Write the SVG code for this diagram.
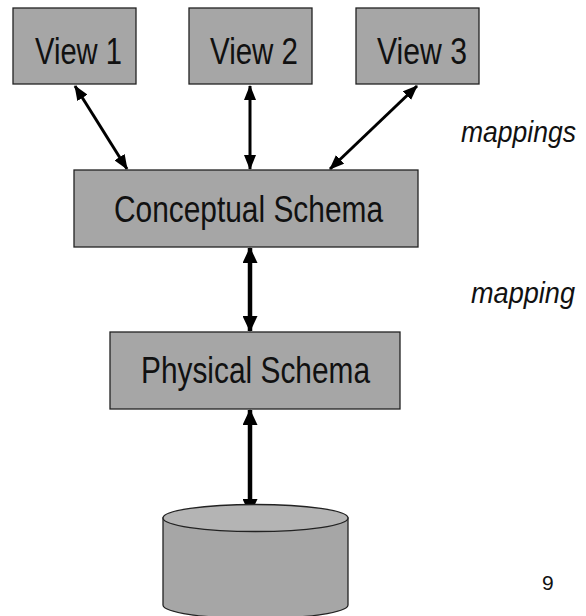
<svg xmlns="http://www.w3.org/2000/svg" width="586" height="616" viewBox="0 0 586 616">
<style>
.box{fill:#a6a6a6;stroke:#222;stroke-width:1.3}
.lbl{font-family:"Liberation Sans",Arial,sans-serif;font-size:37px;fill:#111}
.it{font-family:"Liberation Sans",Arial,sans-serif;font-size:29px;font-style:italic;fill:#111}
.thin{stroke:#000;stroke-width:3;fill:none;marker-start:url(#hs);marker-end:url(#he)}
.thick{stroke:#000;stroke-width:4.5;fill:none;marker-start:url(#Hs);marker-end:url(#He)}
</style>
<defs>
<marker id="he" markerUnits="userSpaceOnUse" markerWidth="15" markerHeight="12" refX="14" refY="6" orient="auto"><path d="M0,0 L15,6 L0,12 z" fill="#000"/></marker>
<marker id="hs" markerUnits="userSpaceOnUse" markerWidth="15" markerHeight="12" refX="1" refY="6" orient="auto"><path d="M15,0 L0,6 L15,12 z" fill="#000"/></marker>
<marker id="He" markerUnits="userSpaceOnUse" markerWidth="16" markerHeight="15" refX="15" refY="7.5" orient="auto"><path d="M0,0 L16,7.5 L0,15 z" fill="#000"/></marker>
<marker id="Hs" markerUnits="userSpaceOnUse" markerWidth="16" markerHeight="15" refX="1" refY="7.5" orient="auto"><path d="M16,0 L0,7.5 L16,15 z" fill="#000"/></marker>
</defs>
<g id="connectors">
<line class="thin" x1="75" y1="86" x2="127" y2="169"/>
<line class="thin" x1="250" y1="86" x2="250" y2="169"/>
<line class="thin" x1="417" y1="86" x2="330" y2="169"/>
<line class="thick" x1="250" y1="248" x2="250" y2="331"/>
<line class="thick" x1="250" y1="410" x2="250" y2="514"/>
</g>
<g id="view1"><rect class="box" x="13" y="8" width="123" height="76"/><text class="lbl" x="35" y="64" textLength="87" lengthAdjust="spacingAndGlyphs">View 1</text></g>
<g id="view2"><rect class="box" x="189" y="8" width="123" height="76"/><text class="lbl" x="210" y="64" textLength="88" lengthAdjust="spacingAndGlyphs">View 2</text></g>
<g id="view3"><rect class="box" x="356" y="8" width="123" height="76"/><text class="lbl" x="377" y="64" textLength="90" lengthAdjust="spacingAndGlyphs">View 3</text></g>
<g id="conceptual"><rect class="box" x="74" y="170" width="344" height="77"/><text class="lbl" x="114" y="222" textLength="269" lengthAdjust="spacingAndGlyphs">Conceptual Schema</text></g>
<g id="physical"><rect class="box" x="110" y="332" width="290" height="77"/><text class="lbl" x="141" y="383" textLength="229" lengthAdjust="spacingAndGlyphs">Physical Schema</text></g>
<g id="disk">
<path d="M163,518 L163,605 A92.5,13.5 0 0 0 348,605 L348,518 Z" fill="#a6a6a6" stroke="#222" stroke-width="1.3"/>
<ellipse cx="255.5" cy="518" rx="92.5" ry="13.5" fill="#b4b4b4" stroke="#222" stroke-width="1.3"/>
</g>
<text class="it" x="461" y="142" textLength="115" lengthAdjust="spacingAndGlyphs">mappings</text>
<text class="it" x="471" y="303" textLength="104" lengthAdjust="spacingAndGlyphs">mapping</text>
<text x="542" y="590" font-family="Liberation Sans,Arial,sans-serif" font-size="21" fill="#111">9</text>
</svg>
